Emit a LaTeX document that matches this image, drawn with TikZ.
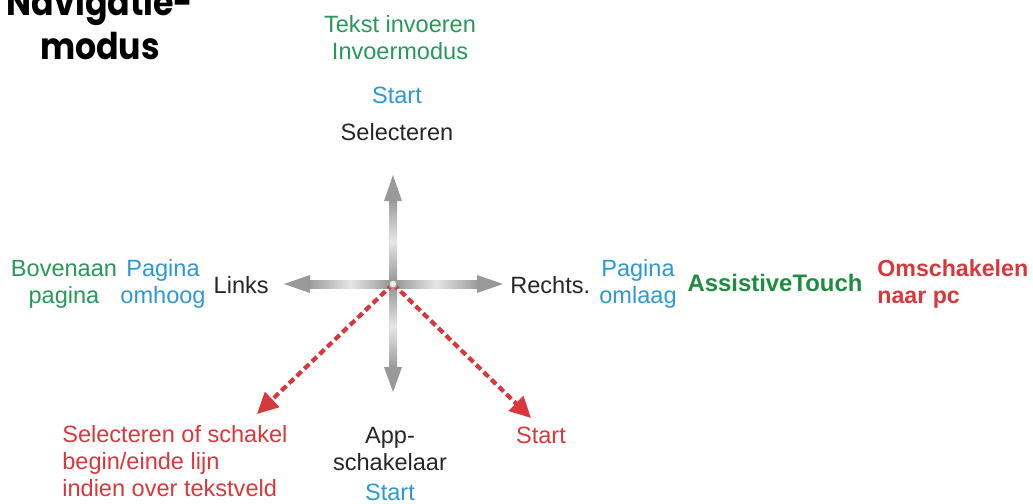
\documentclass[tikz,border=0pt]{standalone}
\usepackage{fontspec}
\setmainfont{Liberation Sans}
\newfontfamily\titlefont[FakeStretch=0.9]{Poppins}
\usetikzlibrary{arrows.meta}

\definecolor{tgreen}{HTML}{28985A}
\definecolor{tblue}{HTML}{2E98D4}
\definecolor{tred}{HTML}{D8383C}
\definecolor{tdgreen}{HTML}{1E8C3E}

\tikzset{
  lbl/.style={font=\fontsize{13.4}{15.4}\selectfont, align=center, inner sep=0pt, text=black!85},
  boldlbl/.style={lbl, font=\fontsize{13.6}{15.4}\selectfont\bfseries},
  reddash/.style={draw=tred, line width=2.4pt, dash pattern=on 3.8pt off 2.2pt,
    -{Triangle[length=12pt,width=11.5pt]}},
  armhead/.style={fill=gray!80, draw=none}
}

\begin{document}
\begin{tikzpicture}[x=0.02cm,y=-0.02cm]
  \useasboundingbox (0,0) rectangle (1033,503);

  % Title
  \node[align=center, inner sep=0pt, font=\titlefont\fontsize{21}{25}\selectfont\bfseries] (title) at (100,23) {Navigatie-\\modus};

  % Cross
  \coordinate (ctr) at (393,284);
  \coordinate (up) at (393,175);
  \coordinate (down) at (393,392);
  \coordinate (left) at (284,284);
  \coordinate (right) at (503,284);

  % Up arrow
  \shade[top color=gray!80, bottom color=gray!85, middle color=gray!20] (389,199) rectangle (397,284);
  \fill[armhead] (up) -- (384,201) -- (402,201) -- cycle;
  % Down arrow
  \shade[top color=gray!85, bottom color=gray!80, middle color=gray!20] (389,284) rectangle (397,369);
  \fill[armhead] (down) -- (384,367) -- (402,367) -- cycle;
  % Left arrow
  \shade[left color=gray!80, right color=gray!85, middle color=gray!20] (308,280) rectangle (393,288);
  \fill[armhead] (left) -- (310,275) -- (310,293) -- cycle;
  % Right arrow
  \shade[left color=gray!85, right color=gray!80, middle color=gray!20] (393,280) rectangle (479,288);
  \fill[armhead] (right) -- (477,275) -- (477,293) -- cycle;

  % Red dashed arrows
  \coordinate (dl) at (257,414);
  \coordinate (dr) at (531,418);
  \draw[reddash] (ctr) -- (dl);
  \draw[reddash] (ctr) -- (dr);

  \filldraw[fill=gray!15, draw=gray!75, line width=0.8pt] (ctr) circle (4);

  % Top labels
  \node[lbl, text=tgreen] (invoer) at (400,38) {Tekst invoeren\\Invoermodus};
  \node[lbl, text=tblue] (upstart) at (397,95) {Start};
  \node[lbl] (select) at (397,132) {Selecteren};

  % Left labels
  \node[lbl, text=tgreen] (boven) at (64,284) {Bovenaan\\pagina};
  \node[lbl, text=tblue] (omhoog) at (163,284) {Pagina\\omhoog};
  \node[lbl, anchor=east] (links) at (269,285) {Links};

  % Right labels
  \node[lbl, anchor=west] (rechts) at (510,285) {Rechts.};
  \node[lbl, text=tblue] (omlaag) at (638,284) {Pagina\\omlaag};
  \node[boldlbl, text=tdgreen] (assist) at (775,283) {AssistiveTouch};
  \node[boldlbl, text=tred, anchor=west, align=left, font=\fontsize{13.2}{15.4}\selectfont\bfseries] (pc) at (877,284) {Omschakelen\\naar pc};

  % Bottom labels
  \node[lbl, text=tred, anchor=west, align=left] (schakel) at (62,461) {Selecteren of schakel\\begin/einde lijn\\indien over tekstveld};
  \node[lbl] (app) at (390,449) {App-\\schakelaar};
  \node[lbl, text=tblue] (downstart) at (390,492) {Start};
  \node[lbl, text=tred] (redstart) at (541,435) {Start};
\end{tikzpicture}
\end{document}
